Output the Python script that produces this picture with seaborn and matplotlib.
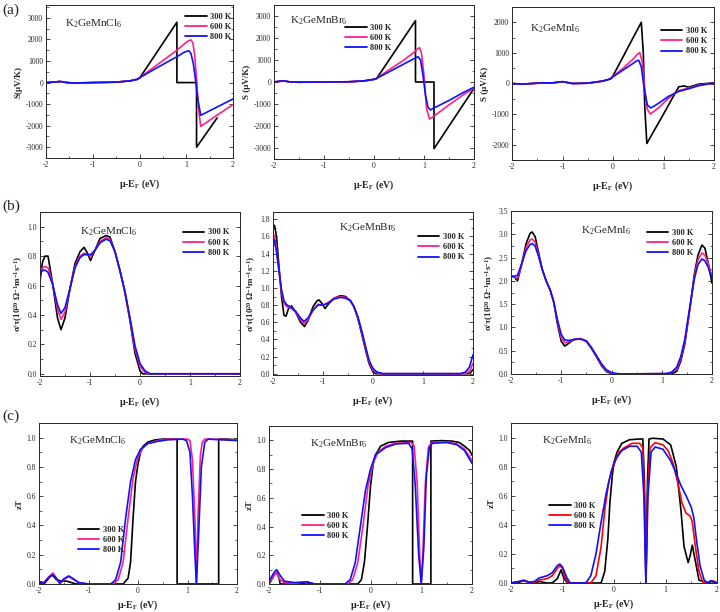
import numpy as np
import pandas as pd
import matplotlib
matplotlib.use("Agg")
import matplotlib.pyplot as plt
from matplotlib.ticker import AutoMinorLocator, MultipleLocator
import seaborn as sns

sns.set_style("ticks")
plt.rcParams["font.family"] = ["Liberation Serif", "DejaVu Serif"]
plt.rcParams["mathtext.default"] = "regular"
plt.rcParams["axes.unicode_minus"] = False

temps = ["300 K", "600 K", "800 K"]
compounds = ["K$_2$GeMnCl$_6$", "K$_2$GeMnBr$_6$", "K$_2$GeMnI$_6$"]

# ---------------- (a) Seebeck coefficient S (uV/K) ----------------
# K2GeMnCl6
xa1_300 = [-2, -1.85, -1.7, -1.55, -1.4, -1.0, -0.5, -0.2, -0.05, 0.0, 0.8, 0.8, 1.22, 1.22, 1.66]
ya1_300 = [0, 20, 50, 0, -20, 0, 20, 80, 150, 200, 2800, 0, 0, -3000, -1640]
xa1_600 = [-2, -1.85, -1.7, -1.55, -1.4, -1.0, -0.5, -0.2, -0.05, 0, 0.2, 0.4, 0.6, 0.8, 0.95, 1.05, 1.1,
           1.14, 1.18, 1.22, 1.26, 1.31, 1.4, 1.6, 1.8, 2.0]
ya1_600 = [0, 20, 50, 0, -20, 0, 20, 80, 150, 220, 540, 860, 1180, 1500, 1780, 1940, 1980,
           1850, 1300, 200, -1200, -2030, -1900, -1600, -1310, -1020]
xa1_800 = [-2, -1.85, -1.7, -1.55, -1.4, -1.0, -0.5, -0.2, -0.05, 0, 0.2, 0.4, 0.6, 0.8, 0.95, 1.02, 1.06,
           1.1, 1.15, 1.2, 1.25, 1.31, 1.4, 1.6, 1.8, 2.0]
ya1_800 = [0, 20, 50, 0, -20, 0, 20, 80, 150, 220, 470, 720, 960, 1200, 1400, 1460, 1470,
           1350, 900, 100, -800, -1520, -1420, -1200, -980, -760]
# K2GeMnBr6
xa2_300 = [-2, -1.9, -1.8, -1.7, -1.5, -1.0, -0.5, -0.2, 0.0, 0.05, 0.83, 0.83, 1.2, 1.2, 2.0]
ya2_300 = [0, 30, 50, 10, -10, 0, 10, 50, 120, 150, 2790, 0, 0, -3030, -290]
xa2_600 = [-2, -1.9, -1.8, -1.7, -1.5, -1.0, -0.5, -0.2, 0.0, 0.05, 0.3, 0.6, 0.8, 0.87, 0.91, 0.95,
           1.0, 1.05, 1.11, 1.2, 1.5, 1.8, 2.0]
ya2_600 = [0, 30, 50, 10, -10, 0, 10, 50, 120, 160, 550, 1000, 1350, 1500, 1560, 1300,
           300, -1200, -1680, -1550, -1040, -560, -290]
xa2_800 = [-2, -1.9, -1.8, -1.7, -1.5, -1.0, -0.5, -0.2, 0.0, 0.05, 0.3, 0.6, 0.8, 0.88, 0.93, 0.98,
           1.03, 1.08, 1.13, 1.2, 1.5, 1.8, 2.0]
ya2_800 = [0, 30, 50, 10, -10, 0, 10, 50, 120, 160, 460, 820, 1060, 1150, 1000, 300,
           -600, -1150, -1270, -1180, -840, -460, -240]
# K2GeMnI6
xa3_300 = [-2, -1.8, -1.6, -1.4, -1.2, -1.0, -0.8, -0.5, -0.2, -0.05, 0.0, 0.56, 0.6, 0.63, 0.67,
           1.0, 1.3, 1.4, 1.5, 1.7, 2.0]
ya3_300 = [0, -20, 0, 20, 20, 60, 0, 10, 80, 150, 250, 2000, 1000, -800, -1960,
           -1000, -110, -80, -120, -20, 20]
xa3_600 = [-2, -1.8, -1.6, -1.4, -1.2, -1.0, -0.8, -0.5, -0.2, -0.05, 0.0, 0.2, 0.4, 0.48, 0.53, 0.58,
           0.63, 0.68, 0.74, 0.9, 1.1, 1.3, 1.5, 1.7, 2.0]
ya3_600 = [0, -20, 0, 20, 20, 60, 0, 10, 80, 150, 230, 500, 800, 950, 1010, 700,
           -200, -850, -1000, -800, -480, -230, -150, -50, 20]
xa3_800 = [-2, -1.8, -1.6, -1.4, -1.2, -1.0, -0.8, -0.5, -0.2, -0.05, 0.0, 0.2, 0.4, 0.47, 0.51, 0.56,
           0.62, 0.68, 0.75, 0.9, 1.1, 1.3, 1.5, 1.7, 2.0]
ya3_800 = [0, -20, 0, 20, 20, 60, 0, 10, 80, 150, 220, 440, 660, 740, 760, 550,
           -200, -700, -800, -650, -420, -260, -170, -70, 20]

# ---------------- (b) sigma/tau ----------------
xb1_300 = [-2, -1.95, -1.9, -1.84, -1.75, -1.65, -1.58, -1.5, -1.4, -1.3, -1.2, -1.12, -1.05, -0.99,
           -0.9, -0.8, -0.68, -0.6, -0.5, -0.4, -0.3, -0.2, -0.1, 0.0, 0.05, 2.0]
yb1_300 = [0.63, 0.76, 0.80, 0.80, 0.62, 0.38, 0.30, 0.38, 0.58, 0.75, 0.83, 0.86, 0.82, 0.77,
           0.84, 0.92, 0.94, 0.93, 0.83, 0.70, 0.55, 0.36, 0.14, 0.02, 0.0, 0.0]
xb1_600 = [-2, -1.95, -1.9, -1.84, -1.75, -1.65, -1.58, -1.5, -1.4, -1.3, -1.2, -1.12, -1.05, -0.99,
           -0.9, -0.8, -0.68, -0.6, -0.5, -0.4, -0.3, -0.2, -0.1, 0.0, 0.1, 0.2, 2.0]
yb1_600 = [0.70, 0.72, 0.73, 0.72, 0.62, 0.44, 0.37, 0.42, 0.58, 0.73, 0.80, 0.82, 0.81, 0.80,
           0.84, 0.90, 0.925, 0.915, 0.83, 0.70, 0.55, 0.37, 0.17, 0.05, 0.01, 0.0, 0.0]
xb1_800 = [-2, -1.95, -1.9, -1.84, -1.75, -1.65, -1.58, -1.5, -1.4, -1.3, -1.2, -1.12, -1.05, -0.99,
           -0.9, -0.8, -0.68, -0.6, -0.5, -0.4, -0.3, -0.2, -0.1, 0.0, 0.1, 0.2, 2.0]
yb1_800 = [0.69, 0.705, 0.705, 0.69, 0.61, 0.47, 0.41, 0.45, 0.58, 0.72, 0.79, 0.81, 0.81, 0.81,
           0.84, 0.89, 0.915, 0.905, 0.83, 0.70, 0.56, 0.38, 0.19, 0.07, 0.02, 0.0, 0.0]

xb2_300 = [-2, -1.97, -1.93, -1.88, -1.83, -1.78, -1.74, -1.69, -1.63, -1.55, -1.45, -1.37, -1.3, -1.2,
           -1.12, -1.08, -1.02, -0.96, -0.88, -0.78, -0.65, -0.55, -0.45, -0.38, -0.3, -0.22, -0.15,
           -0.08, 0.0, 0.05, 1.9, 1.95, 2.0]
yb2_300 = [1.72, 1.73, 1.6, 1.25, 0.9, 0.68, 0.67, 0.76, 0.79, 0.72, 0.6, 0.55, 0.62, 0.78,
           0.85, 0.86, 0.82, 0.76, 0.82, 0.88, 0.91, 0.90, 0.85, 0.78, 0.64, 0.45, 0.28,
           0.12, 0.02, 0.0, 0.0, 0.01, 0.05]
xb2_600 = [-2, -1.97, -1.93, -1.88, -1.83, -1.78, -1.72, -1.65, -1.55, -1.45, -1.38, -1.3, -1.2, -1.1,
           -1.0, -0.9, -0.78, -0.65, -0.55, -0.45, -0.38, -0.3, -0.22, -0.15, -0.08, 0.0, 0.08, 0.15,
           1.8, 1.88, 1.94, 2.0]
yb2_600 = [1.64, 1.6, 1.45, 1.2, 0.95, 0.82, 0.78, 0.77, 0.72, 0.63, 0.58, 0.63, 0.74, 0.81,
           0.80, 0.83, 0.88, 0.90, 0.89, 0.85, 0.78, 0.65, 0.47, 0.30, 0.14, 0.04, 0.01, 0.0,
           0.0, 0.01, 0.04, 0.12]
xb2_800 = [-2, -1.97, -1.93, -1.88, -1.83, -1.78, -1.72, -1.65, -1.55, -1.45, -1.38, -1.3, -1.2, -1.1,
           -1.0, -0.9, -0.78, -0.65, -0.55, -0.45, -0.38, -0.3, -0.22, -0.15, -0.08, 0.0, 0.08, 0.2,
           1.75, 1.85, 1.93, 2.0]
yb2_800 = [1.58, 1.55, 1.42, 1.2, 0.98, 0.85, 0.8, 0.78, 0.73, 0.65, 0.61, 0.65, 0.74, 0.80,
           0.80, 0.82, 0.87, 0.89, 0.88, 0.85, 0.78, 0.66, 0.49, 0.32, 0.16, 0.06, 0.02, 0.0,
           0.0, 0.02, 0.08, 0.22]

xb3_300 = [-2, -1.93, -1.87, -1.8, -1.7, -1.62, -1.58, -1.52, -1.45, -1.38, -1.3, -1.22, -1.15, -1.08,
           -1.0, -0.93, -0.85, -0.75, -0.62, -0.5, -0.4, -0.3, -0.2, -0.1, 0.0, 0.05, 1.2, 1.3, 1.38,
           1.46, 1.56, 1.65, 1.72, 1.8, 1.86, 1.93, 2.0]
yb3_300 = [2.1, 2.08, 2.0, 2.3, 2.8, 3.02, 3.05, 2.95, 2.6, 2.25, 2.0, 1.8, 1.55, 1.1,
           0.7, 0.6, 0.66, 0.74, 0.76, 0.70, 0.55, 0.37, 0.18, 0.05, 0.01, 0.0, 0.0, 0.06, 0.28,
           0.65, 1.4, 2.15, 2.55, 2.77, 2.7, 2.35, 1.95]
xb3_600 = [-2, -1.93, -1.87, -1.8, -1.7, -1.62, -1.58, -1.52, -1.45, -1.38, -1.3, -1.22, -1.15, -1.08,
           -1.0, -0.93, -0.85, -0.75, -0.62, -0.5, -0.4, -0.3, -0.2, -0.1, 0.0, 0.1, 1.15, 1.3, 1.38,
           1.46, 1.56, 1.65, 1.72, 1.8, 1.86, 1.93, 2.0]
yb3_600 = [2.1, 2.08, 2.06, 2.3, 2.72, 2.88, 2.9, 2.83, 2.55, 2.25, 2.0, 1.8, 1.55, 1.15,
           0.78, 0.67, 0.69, 0.74, 0.76, 0.71, 0.56, 0.38, 0.2, 0.07, 0.02, 0.0, 0.01, 0.1, 0.33,
           0.7, 1.42, 2.1, 2.45, 2.6, 2.55, 2.35, 2.1]
xb3_800 = [-2, -1.93, -1.87, -1.8, -1.7, -1.62, -1.58, -1.52, -1.45, -1.38, -1.3, -1.22, -1.15, -1.08,
           -1.0, -0.93, -0.85, -0.75, -0.62, -0.5, -0.4, -0.3, -0.2, -0.1, 0.0, 0.1, 0.2, 1.1, 1.2,
           1.3, 1.38, 1.46, 1.56, 1.65, 1.72, 1.8, 1.86, 1.93, 2.0]
yb3_800 = [2.1, 2.1, 2.12, 2.33, 2.65, 2.78, 2.8, 2.75, 2.52, 2.25, 2.0, 1.8, 1.55, 1.18,
           0.85, 0.73, 0.72, 0.74, 0.75, 0.71, 0.57, 0.40, 0.22, 0.09, 0.03, 0.01, 0.0, 0.01, 0.04,
           0.15, 0.38, 0.75, 1.45, 2.05, 2.35, 2.47, 2.43, 2.28, 2.05]

# ---------------- (c) zT ----------------
xc1_300 = [-2, -1.95, -1.9, -1.85, -1.78, -1.72, -1.65, -1.55, -1.45, -1.35, -1.25, -1.0, -0.5, -0.3,
           -0.2, -0.15, -0.1, -0.05, 0.0, 0.05, 0.1, 0.2, 0.35, 0.5, 0.79, 0.79, 1.63, 1.63, 1.8, 2.0]
yc1_300 = [0.01, 0.015, 0.0, 0.02, 0.05, 0.06, 0.03, 0.02, 0.02, 0.01, 0.0, 0.0, 0.0, 0.0,
           0.04, 0.15, 0.45, 0.7, 0.82, 0.9, 0.94, 0.97, 0.985, 0.99, 0.99, 0.0, 0.0, 0.99, 0.99, 0.985]
xc1_600 = [-2, -1.9, -1.8, -1.72, -1.65, -1.58, -1.5, -1.4, -1.3, -1.2, -1.0, -0.5, -0.4, -0.3, -0.2,
           -0.1, 0.0, 0.1, 0.2, 0.4, 0.6, 1.0, 1.05, 1.1, 1.15, 1.18, 1.21, 1.26, 1.3, 1.35, 2.0]
yc1_600 = [0.0, 0.01, 0.05, 0.075, 0.04, 0.0, 0.03, 0.05, 0.03, 0.01, 0.0, 0.0, 0.03, 0.15, 0.45,
           0.72, 0.87, 0.93, 0.96, 0.98, 0.99, 0.99, 0.98, 0.85, 0.45, 0.0, 0.45, 0.88, 0.97, 0.99, 0.985]
xc1_800 = [-2, -1.9, -1.8, -1.72, -1.65, -1.58, -1.5, -1.4, -1.3, -1.2, -1.0, -0.55, -0.45, -0.35, -0.25,
           -0.15, -0.05, 0.05, 0.2, 0.4, 0.6, 0.9, 0.98, 1.05, 1.1, 1.15, 1.18, 1.22, 1.28, 1.35, 1.42, 2.0]
yc1_800 = [0.0, 0.01, 0.045, 0.065, 0.04, 0.005, 0.035, 0.055, 0.035, 0.01, 0.0, 0.0, 0.03, 0.15, 0.45,
           0.7, 0.85, 0.92, 0.96, 0.975, 0.985, 0.99, 0.98, 0.9, 0.6, 0.2, 0.0, 0.3, 0.8, 0.97, 0.99, 0.98]

xc2_300 = [-2, -1.9, -1.85, -1.8, -1.78, -1.6, -1.3, -1.25, -1.2, -0.5, -0.25, -0.18, -0.12, -0.06,
           0.0, 0.05, 0.1, 0.2, 0.35, 0.6, 0.83, 0.83, 1.19, 1.19, 1.4, 1.6, 1.75, 1.85, 1.95, 2.0]
yc2_300 = [0.0, 0.06, 0.08, 0.04, 0.0, 0.0, 0.005, 0.01, 0.0, 0.0, 0.0, 0.03, 0.15, 0.4,
           0.68, 0.83, 0.9, 0.96, 0.985, 0.995, 0.995, 0.0, 0.0, 0.995, 0.998, 0.995, 0.985, 0.96, 0.93, 0.9]
xc2_600 = [-2, -1.9, -1.85, -1.78, -1.7, -1.5, -1.25, -1.1, -0.45, -0.35, -0.25, -0.15, -0.05, 0.05,
           0.15, 0.3, 0.5, 0.8, 0.86, 0.92, 0.97, 1.0, 1.03, 1.08, 1.14, 1.2, 1.5, 1.7, 1.85, 2.0]
yc2_600 = [0.01, 0.06, 0.08, 0.03, 0.01, 0.005, 0.015, 0.0, 0.0, 0.03, 0.15, 0.4, 0.68, 0.84,
           0.92, 0.96, 0.98, 0.985, 0.96, 0.7, 0.2, 0.0, 0.2, 0.7, 0.95, 0.985, 0.99, 0.975, 0.94, 0.86]
xc2_800 = [-2, -1.9, -1.85, -1.78, -1.7, -1.5, -1.25, -1.1, -0.5, -0.4, -0.3, -0.2, -0.1, 0.0,
           0.1, 0.3, 0.5, 0.75, 0.82, 0.88, 0.95, 1.0, 1.05, 1.1, 1.16, 1.22, 1.5, 1.7, 1.85, 2.0]
yc2_800 = [0.02, 0.08, 0.1, 0.06, 0.02, 0.01, 0.015, 0.0, 0.0, 0.03, 0.15, 0.4, 0.65, 0.8,
           0.9, 0.95, 0.975, 0.98, 0.94, 0.7, 0.2, 0.0, 0.25, 0.75, 0.95, 0.98, 0.985, 0.97, 0.93, 0.84]

xc3_300 = [-2, -1.85, -1.75, -1.65, -1.55, -1.45, -1.3, -1.2, -1.1, -1.03, -0.97, -0.9, -0.25, -0.18,
           -0.12, -0.08, -0.03, 0.0, 0.06, 0.15, 0.3, 0.5, 0.56, 0.59, 0.62, 0.65, 0.68, 0.75, 0.95,
           1.1, 1.21, 1.3, 1.36, 1.44, 1.48, 1.52, 1.58, 1.65, 1.8, 1.9, 2.0]
yc3_300 = [0, 0.005, 0.015, 0.005, 0.0, 0.01, 0.0, 0.0, 0.03, 0.09, 0.03, 0.0, 0.0, 0.08,
           0.3, 0.55, 0.75, 0.83, 0.9, 0.96, 0.985, 0.99, 0.99, 0.7, 0.0, 0.7, 0.99, 0.995, 0.99,
           0.95, 0.8, 0.5, 0.25, 0.14, 0.19, 0.26, 0.15, 0.02, 0.0, 0.01, 0.0]
xc3_600 = [-2, -1.85, -1.75, -1.65, -1.55, -1.45, -1.3, -1.2, -1.1, -1.05, -1.0, -0.95, -0.88, -0.45,
           -0.35, -0.25, -0.18, -0.1, 0.0, 0.1, 0.2, 0.35, 0.5, 0.56, 0.59, 0.62, 0.65, 0.7, 0.8, 0.95,
           1.05, 1.15, 1.25, 1.32, 1.4, 1.48, 1.52, 1.58, 1.65, 1.72, 1.8, 1.88, 1.95, 2.0]
yc3_600 = [0, 0.01, 0.015, 0.005, 0.005, 0.02, 0.03, 0.05, 0.1, 0.12, 0.1, 0.04, 0.0, 0.0,
           0.05, 0.25, 0.5, 0.7, 0.83, 0.9, 0.93, 0.96, 0.96, 0.93, 0.6, 0.0, 0.6, 0.93, 0.965, 0.95,
           0.91, 0.82, 0.67, 0.55, 0.48, 0.46, 0.42, 0.25, 0.08, 0.01, 0.0, 0.015, 0.01, 0.0]
xc3_800 = [-2, -1.85, -1.75, -1.65, -1.55, -1.45, -1.3, -1.2, -1.1, -1.05, -1.0, -0.92, -0.85, -0.55,
           -0.45, -0.35, -0.25, -0.15, -0.05, 0.05, 0.15, 0.3, 0.45, 0.53, 0.58, 0.62, 0.66, 0.72, 0.8,
           0.95, 1.1, 1.2, 1.3, 1.4, 1.5, 1.55, 1.6, 1.67, 1.75, 1.82, 1.88, 1.95, 2.0]
yc3_800 = [0, 0.01, 0.02, 0.005, 0.01, 0.035, 0.05, 0.07, 0.12, 0.13, 0.11, 0.04, 0.0, 0.0,
           0.05, 0.2, 0.42, 0.62, 0.77, 0.86, 0.91, 0.94, 0.94, 0.9, 0.6, 0.0, 0.6, 0.9, 0.935,
           0.92, 0.84, 0.76, 0.67, 0.6, 0.52, 0.45, 0.3, 0.12, 0.02, 0.0, 0.015, 0.01, 0.0]

# ---------------- layout ----------------
W, H = 720, 612
fig = plt.figure(figsize=(W / 100, H / 100), dpi=100)

def add_ax(l, t, r, b):
    return fig.add_axes([l / W, 1 - b / H, (r - l) / W, (b - t) / H])

PINK = "#ff1f8a"
pal_std = {"300 K": "black", "600 K": PINK, "800 K": "#1010ff"}
pal_red = {"300 K": "black", "600 K": "#ff0000", "800 K": "#1010ff"}

panels = [
    # (box, curves, ylim, ymajor, ylabel, legend spec, palette)
    ((46, 5, 233, 158), [(xa1_300, ya1_300), (xa1_600, ya1_600), (xa1_800, ya1_800)],
     (-3500, 3600), 1000, "S(μV/K)", dict(loc="upper right", bbox_to_anchor=(1.02, 0.98)), pal_std),
    ((274, 5, 474, 159), [(xa2_300, ya2_300), (xa2_600, ya2_600), (xa2_800, ya2_800)],
     (-3500, 3500), 1000, "S (μV/K)", dict(loc="upper left", bbox_to_anchor=(0.33, 0.91)), pal_std),
    ((512, 7, 714, 160), [(xa3_300, ya3_300), (xa3_600, ya3_600), (xa3_800, ya3_800)],
     (-2500, 2500), 1000, "S (μV/K)", dict(loc="upper right", bbox_to_anchor=(0.99, 0.9)), pal_std),
    ((40, 212, 240, 376), [(xb1_300, yb1_300), (xb1_600, yb1_600), (xb1_800, yb1_800)],
     (-0.015, 1.1), 0.2, "σ/τ(10$^{20}$ Ω$^{-1}$m$^{-1}$s$^{-1}$)",
     dict(loc="upper right", bbox_to_anchor=(0.97, 0.93)), pal_std),
    ((273, 212, 473, 375), [(xb2_300, yb2_300), (xb2_600, yb2_600), (xb2_800, yb2_800)],
     (-0.015, 1.885), 0.2, "σ/τ(10$^{20}$ Ω$^{-1}$m$^{-1}$s$^{-1}$)",
     dict(loc="upper right", bbox_to_anchor=(0.98, 0.9)), pal_std),
    ((511, 211, 712, 374), [(xb3_300, yb3_300), (xb3_600, yb3_600), (xb3_800, yb3_800)],
     (0.0, 3.5), 0.5, "σ/τ(10$^{20}$ Ω$^{-1}$m$^{-1}$s$^{-1}$)",
     dict(loc="upper right", bbox_to_anchor=(0.93, 0.92)), pal_std),
    ((39, 423, 237, 584), [(xc1_300, yc1_300), (xc1_600, yc1_600), (xc1_800, yc1_800)],
     (0.0, 1.1), 0.2, "zT", dict(loc="upper left", bbox_to_anchor=(0.17, 0.39)), pal_std),
    ((269, 426, 472, 584), [(xc2_300, yc2_300), (xc2_600, yc2_600), (xc2_800, yc2_800)],
     (0.0, 1.1), 0.2, "zT", dict(loc="upper left", bbox_to_anchor=(0.14, 0.49)), pal_std),
    ((511, 423, 717, 583), [(xc3_300, yc3_300), (xc3_600, yc3_600), (xc3_800, yc3_800)],
     (0.0, 1.1), 0.2, "zT", dict(loc="upper left", bbox_to_anchor=(0.16, 0.54)), pal_red),
]

comp_pos = [(0.1, 0.92), (0.08, 0.94), (0.09, 0.9),
            (0.2, 0.92), (0.33, 0.94), (0.35, 0.92),
            (0.15, 0.93), (0.2, 0.93), (0.15, 0.93)]

for i, (box, curves, ylim, ymaj, ylabel, legspec, pal) in enumerate(panels):
    ax = add_ax(*box)
    frames = []
    for T, (xs, ys) in zip(temps, curves):
        frames.append(pd.DataFrame({"E": xs, "v": ys, "T": T}))
    df = pd.concat(frames, ignore_index=True)
    sns.lineplot(data=df, x="E", y="v", hue="T", hue_order=temps, palette=pal,
                 estimator=None, sort=False, linewidth=1.2, ax=ax)
    ax.set_xlim(-2, 2)
    ax.set_ylim(*ylim)
    ax.xaxis.set_major_locator(MultipleLocator(1))
    ax.xaxis.set_minor_locator(AutoMinorLocator(2))
    ax.yaxis.set_major_locator(MultipleLocator(ymaj))
    ax.yaxis.set_minor_locator(AutoMinorLocator(2))
    if ymaj < 1:
        ax.yaxis.set_major_formatter(matplotlib.ticker.FormatStrFormatter("%.1f"))
    ax.tick_params(which="both", direction="in", right=True, labelsize=5.5, pad=2)
    ax.tick_params(which="major", length=3, width=0.6)
    ax.tick_params(which="minor", length=1.8, width=0.5)
    for s in ax.spines.values():
        s.set_linewidth(0.7)
    lp = 6 if i < 6 else 3
    ax.set_xlabel("μ-E$_F$ (eV)", fontsize=7, fontweight="bold", labelpad=lp)
    ax.set_ylabel(ylabel, fontsize=6.5, fontweight="bold", labelpad=2)
    ax.text(comp_pos[i][0], comp_pos[i][1], compounds[i % 3], transform=ax.transAxes,
            fontsize=8, va="top", ha="left")
    leg = ax.legend(frameon=False, handlelength=2.6, handletextpad=0.4,
                    labelspacing=0.25, borderaxespad=0.2, prop={"weight": "bold", "size": 6},
                    **legspec)
    for ln in leg.get_lines():
        ln.set_linewidth(1.3)

fig.text(2 / W, 1 - 4 / H, "(a)", fontsize=11, va="top", ha="left")
fig.text(2 / W, 1 - 200 / H, "(b)", fontsize=11, va="top", ha="left")
fig.text(2 / W, 1 - 410 / H, "(c)", fontsize=11, va="top", ha="left")

fig.savefig("out.png", dpi=100)
